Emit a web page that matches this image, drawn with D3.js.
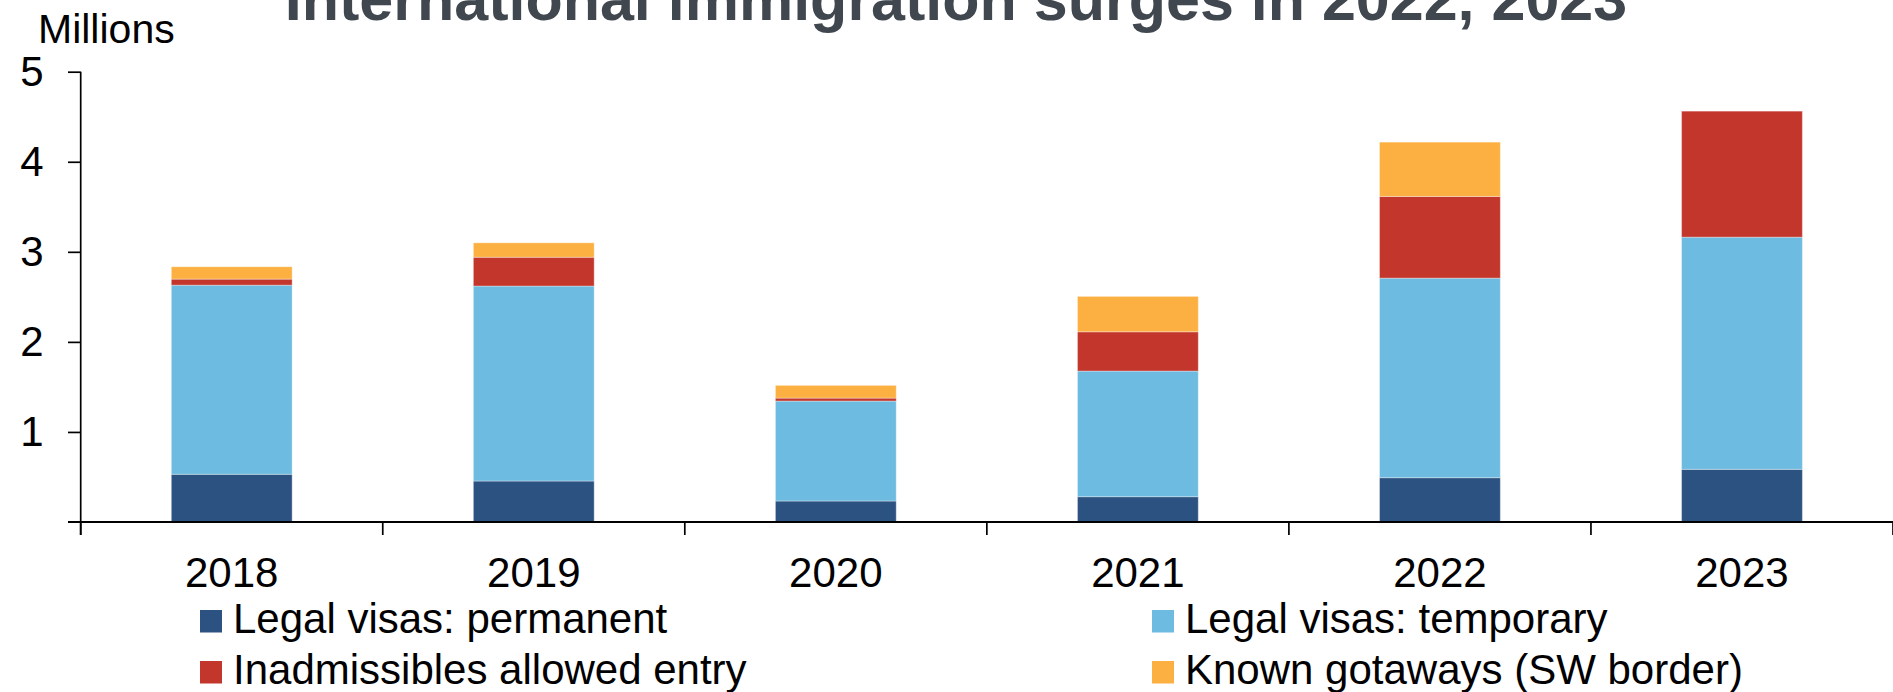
<!DOCTYPE html>
<html>
<head>
<meta charset="utf-8">
<script src="https://cdn.jsdelivr.net/npm/d3@7"></script>
<style>
  body { margin: 0; background: #fff; }
  text { font-family: "Liberation Sans", Arial, sans-serif; }
</style>
</head>
<body>
<svg id="vis"></svg>
<script>
const plotWidth = 1893;
const plotHeight = 692;

// values, millions
const years = ['2018', '2019', '2020', '2021', '2022', '2023'];
const permanent = [0.53, 0.455, 0.233, 0.281, 0.492, 0.585];
const temporary = [2.10, 2.165, 1.11, 1.395, 2.216, 2.578];
const inadmissibles = [0.067, 0.32, 0.033, 0.436, 0.907, 1.399];
const gotaways = [0.137, 0.16, 0.141, 0.393, 0.603, 0];
const yTicks = [1, 2, 3, 4, 5];

const seriesKeys = ['permanent', 'temporary', 'inadmissibles', 'gotaways'];
const seriesNames = ['Legal visas: permanent', 'Legal visas: temporary',
                     'Inadmissibles allowed entry', 'Known gotaways (SW border)'];
const seriesColors = ['#2c5281', '#6dbbe0', '#c3362c', '#fbb041'];

const svg = d3.select('#vis')
            .attr('width', plotWidth)
            .attr('height', plotHeight);

function main() {
    const rows = years.map((yr, i) => ({
        year: yr,
        permanent: permanent[i],
        temporary: temporary[i],
        inadmissibles: inadmissibles[i],
        gotaways: gotaways[i],
    }));

    const x = d3.scaleBand()
        .domain(years)
        .range([80.7, plotWidth])
        .paddingInner(0.6)
        .paddingOuter(0.3);
    const y = d3.scaleLinear()
        .domain([0, 5])
        .range([522, 71.7]);

    drawBars(rows, x, y);
    drawAxes(x, y);
    drawLegend();

    // title is partly above the top edge, as in the source image
    svg.append('text')
        .attr('x', 956)
        .attr('y', 20)
        .attr('text-anchor', 'middle')
        .style('font-size', '61px')
        .style('font-weight', 'bold')
        .style('fill', '#40474e')
        .text('International immigration surges in 2022, 2023');

    svg.append('text')
        .attr('x', 38)
        .attr('y', 43)
        .style('font-size', '41px')
        .text('Millions');
}

function drawBars(rows, x, y) {
    const stacked = d3.stack().keys(seriesKeys)(rows);
    const color = d3.scaleOrdinal().domain(seriesKeys).range(seriesColors);

    svg.append('g').selectAll('g')
        .data(stacked)
        .join('g')
        .style('fill', d => color(d.key))
        .selectAll('rect')
        .data(d => d)
        .join('rect')
        .attr('x', d => x(d.data.year))
        .attr('width', x.bandwidth())
        .attr('y', d => y(d[1]))
        .attr('height', d => y(d[0]) - y(d[1]))
        .style('stroke', '#fff')
        .style('stroke-opacity', 0.35)
        .style('stroke-width', 1);
}

function drawAxes(x, y) {
    // y axis with ticks to the left
    const yAxis = svg.append('g')
        .attr('transform', 'translate(80.7,0)')
        .call(d3.axisLeft(y).tickValues(yTicks).tickFormat(d3.format('d'))
              .tickSize(12.7).tickPadding(24.5));
    yAxis.select('.domain').remove();
    yAxis.selectAll('line').style('stroke', '#000').style('stroke-width', 1.7);
    yAxis.selectAll('text').style('font-size', '42px').style('font-family', '"Liberation Sans", Arial, sans-serif').style('fill', '#000');

    svg.append('line')
        .attr('x1', 80.7).attr('x2', 80.7)
        .attr('y1', y(5)).attr('y2', 535)
        .style('stroke', '#000').style('stroke-width', 1.7);

    // baseline, runs left of the y axis like a zero tick
    svg.append('line')
        .attr('x1', 68).attr('x2', plotWidth)
        .attr('y1', y(0)).attr('y2', y(0))
        .style('stroke', '#000').style('stroke-width', 2);

    // category boundary ticks below the baseline
    const bounds = years.map(yr => x(yr) - (x.step() - x.bandwidth()) / 2);
    bounds.push(x.range()[1]);
    svg.append('g').selectAll('line')
        .data(bounds)
        .join('line')
        .attr('x1', d => d).attr('x2', d => d)
        .attr('y1', y(0)).attr('y2', 535)
        .style('stroke', '#000').style('stroke-width', 1.7);

    const xAxis = svg.append('g')
        .attr('transform', `translate(0,${y(0)})`)
        .call(d3.axisBottom(x).tickSize(0).tickPadding(35));
    xAxis.select('.domain').remove();
    xAxis.selectAll('text').style('font-size', '42px').style('font-family', '"Liberation Sans", Arial, sans-serif').style('fill', '#000');
}

function drawLegend() {
    const colX = [200, 1152];
    const rowY = [632.5, 683.5];
    const items = seriesNames.map((name, i) => ({
        name: name,
        color: seriesColors[i],
        cx: colX[i % 2],
        cy: rowY[Math.floor(i / 2)],
    }));
    const g = svg.append('g').selectAll('g')
        .data(items)
        .join('g')
        .attr('transform', d => `translate(${d.cx},${d.cy})`);
    g.append('rect')
        .attr('x', 0).attr('y', -22.5)
        .attr('width', 22).attr('height', 22.5)
        .style('fill', d => d.color);
    g.append('text')
        .attr('x', 33)
        .attr('y', 0)
        .style('font-size', '42px')
        .text(d => d.name);
}

main()
</script>
</body>
</html>
